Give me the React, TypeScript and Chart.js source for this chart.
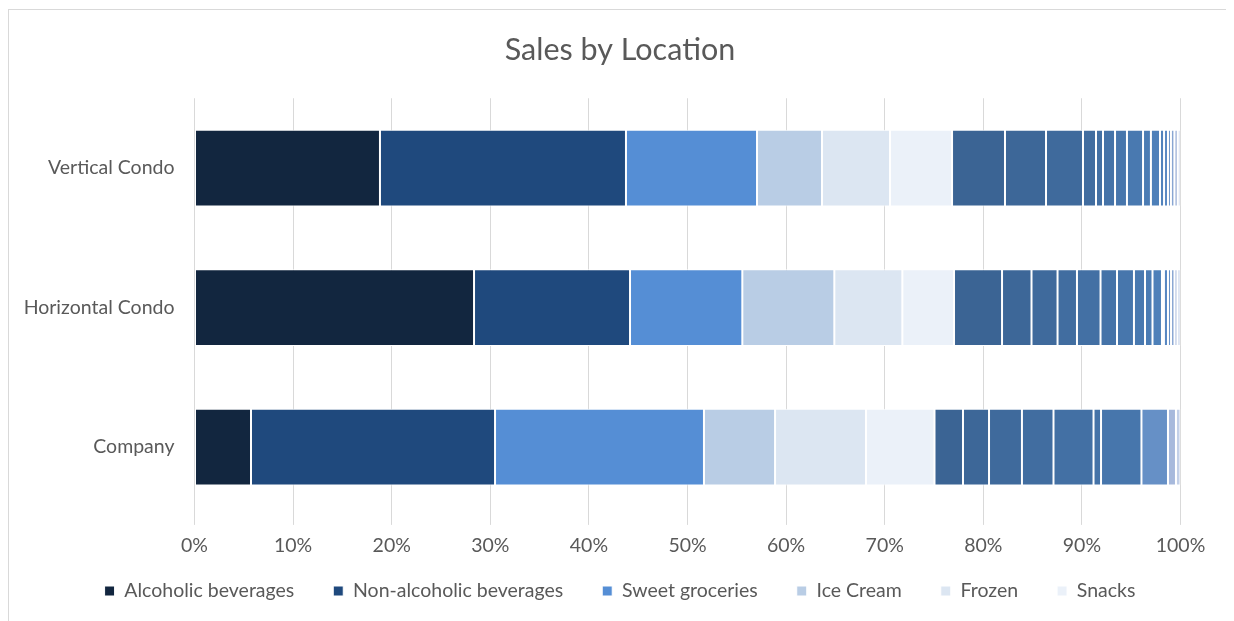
import React, { useEffect, useRef } from "react";
import { Chart, registerables } from "chart.js";

Chart.register(...registerables);

const locations = ["Vertical Condo", "Horizontal Condo", "Company"];

const mainSeriesNames = [
  "Alcoholic beverages",
  "Non-alcoholic beverages",
  "Sweet groceries",
  "Ice Cream",
  "Frozen",
  "Snacks",
];
const alcoholic = [18.81, 28.35, 5.73];
const nonAlcoholic = [24.95, 15.82, 24.75];
const sweetGroceries = [13.29, 11.39, 21.19];
const iceCream = [6.59, 9.33, 7.21];
const frozen = [6.9, 6.9, 9.22];
const snacks = [6.29, 5.24, 6.95];

// Remaining (unlabelled in the legend) categories, per location order above
const other1 = [5.37, 4.87, 2.89];
const other2 = [4.16, 2.99, 2.64];
const other3 = [3.75, 2.64, 3.34];
const other4 = [1.32, 1.97, 3.2];
const other5 = [0.71, 2.39, 4.06];
const other6 = [1.22, 1.67, 0.76];
const other7 = [1.21, 1.72, 4.1];
const other8 = [1.63, 1.12, null];
const other9 = [0.8, 0.76, null];
const other10 = [0.92, 0.96, null];
const other11 = [0.41, 0.2, null];
const other12 = [0.4, 0.41, null];
const other13 = [0.3, 0.31, 2.69];
const other14 = [0.35, 0.35, null];
const other15 = [0.35, 0.3, 0.81];
const other16 = [0.27, 0.31, 0.46];

const tickValues = [0, 10, 20, 30, 40, 50, 60, 70, 80, 90, 100];

const mainColors = ["#12263f", "#1f497d", "#558ed5", "#b9cde5", "#dce6f2", "#ebf1f9"];
const otherColors = [
  "#3b6494", "#3d6798", "#3f6a9c", "#416da0", "#4370a4", "#4573a8", "#4776ac", "#4979b0",
  "#4b7cb4", "#4e80b9", "#5283bd", "#5787c2", "#6690c6", "#88a5d2", "#a7b9dc", "#c3d0e8",
];

const LEGEND_HEIGHT = 54.6;
const LEGEND_TOP = 532.25;
const CANVAS_W = 1222;
const CANVAS_H = 612;

const legendPlacement = {
  id: "legendPlacement",
  beforeLayout(chart: any) {
    const lg = chart.legend;
    if (lg && !lg.__patched) {
      const orig = lg.fit.bind(lg);
      lg.fit = function () {
        orig();
        this.height = LEGEND_HEIGHT;
      };
      lg.__patched = true;
    }
  },
  afterLayout(chart: any) {
    const lg = chart.legend;
    if (lg) {
      lg.top = LEGEND_TOP;
      lg.bottom = CANVAS_H;
      lg.height = CANVAS_H - LEGEND_TOP;
    }
  },
};

export default function App() {
  const canvasRef = useRef<HTMLCanvasElement | null>(null);

  useEffect(() => {
    if (!canvasRef.current) return;
    const mainValues = [alcoholic, nonAlcoholic, sweetGroceries, iceCream, frozen, snacks];
    const otherValues = [
      other1, other2, other3, other4, other5, other6, other7, other8,
      other9, other10, other11, other12, other13, other14, other15, other16,
    ];
    const font = "Lato, 'Open Sans', sans-serif";
    const datasets: any[] = [];
    mainValues.forEach((vals, i) => {
      datasets.push({
        label: mainSeriesNames[i],
        data: vals,
        backgroundColor: mainColors[i],
        borderColor: "#ffffff",
        borderWidth: 1,
        borderSkipped: false,
      });
    });
    otherValues.forEach((vals, i) => {
      datasets.push({
        label: "Other " + (i + 1),
        data: vals,
        backgroundColor: otherColors[i],
        borderColor: "#ffffff",
        borderWidth: 1,
        borderSkipped: false,
      });
    });

    const chart = new Chart(canvasRef.current, {
      type: "bar",
      data: { labels: locations, datasets },
      plugins: [legendPlacement],
      options: {
        indexAxis: "y",
        responsive: false,
        animation: false,
        datasets: { bar: { categoryPercentage: 1, barPercentage: 0.55 } },
        layout: { padding: { left: 0, right: 0, top: 0, bottom: 0 } },
        plugins: {
          title: {
            display: true,
            text: "Sales by Location",
            color: "#595959",
            font: { family: font, size: 30.5, weight: "normal" },
            padding: { top: 21.7, bottom: 29.95 },
          },
          legend: {
            position: "bottom",
            labels: {
              color: "#595959",
              font: { family: font, size: 19.5 },
              boxWidth: 10,
              boxHeight: 10,
              padding: 39,
              filter: (item: any) => item.datasetIndex < 6,
            },
          },
          tooltip: { enabled: false },
        },
        scales: {
          x: {
            stacked: true,
            min: 0,
            max: 100,
            afterBuildTicks: (scale: any) => {
              scale.ticks = tickValues.map((v) => ({ value: v }));
            },
            afterFit: (scale: any) => {
              scale.paddingRight = 50.5;
            },
            ticks: {
              color: "#595959",
              font: { family: font, size: 19.5 },
              padding: 9.55,
              callback: (v: any) => v + "%",
            },
            grid: { color: "#d9d9d9", lineWidth: 1, tickLength: 8, drawTicks: true },
            border: { display: false },
          },
          y: {
            stacked: true,
            afterFit: (scale: any) => {
              scale.width = 185.5;
            },
            ticks: {
              color: "#595959",
              font: { family: font, size: 19.5 },
              padding: 20,
            },
            grid: { display: false, drawTicks: false },
            border: { display: false },
          },
        },
      },
    });
    return () => chart.destroy();
  }, []);

  return (
    <div
      style={{
        position: "relative",
        top: 1,
        width: CANVAS_W,
        height: CANVAS_H,
        border: "1px solid #d9d9d9",
        background: "#ffffff",
      }}
    >
      <canvas ref={canvasRef} width={CANVAS_W} height={CANVAS_H} style={{ display: "block" }} />
    </div>
  );
}
